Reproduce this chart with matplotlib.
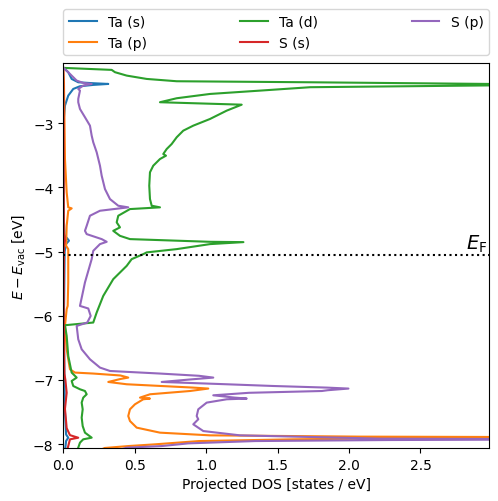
import matplotlib
matplotlib.use("Agg")
import matplotlib.pyplot as plt

# Fermi level and axis range (eV)
e_fermi = -5.05
y_min, y_max = -8.06, -2.06
x_max = 2.98

# Ta (s)
ta_s_energy = [-2.142, -2.204, -2.309, -2.361, -2.376, -2.387, -2.402, -2.423, -2.465, -2.569,
               -2.725, -2.933, -3.5, -4.5, -4.75, -4.80, -4.83, -4.88, -5.0, -6.0,
               -7.0, -7.5, -7.85, -7.9, -7.95, -8.15]
ta_s_dos = [0.005, 0.035, 0.059, 0.105, 0.210, 0.315, 0.210, 0.117, 0.070, 0.035,
            0.012, 0.004, 0.002, 0.004, 0.010, 0.030, 0.040, 0.020, 0.010, 0.005,
            0.008, 0.012, 0.020, 0.035, 0.020, 0.010]

# Ta (p)
ta_p_energy = [-2.137, -2.361, -3.557, -4.076, -4.310, -4.326, -4.363, -4.598, -4.910, -4.961,
               -5.480, -5.846, -5.897, -6.158, -6.522, -6.834, -6.885, -6.900, -6.930, -6.963,
               -6.985, -7.031, -7.067, -7.119, -7.134, -7.172, -7.223, -7.275, -7.290, -7.301,
               -7.379, -7.457, -7.562, -7.640, -7.743, -7.821, -7.863, -7.883, -7.893, -7.905,
               -7.925, -7.952, -8.003, -8.030, -8.060, -8.15]
ta_p_dos = [0.0, 0.005, 0.012, 0.024, 0.035, 0.059, 0.035, 0.024, 0.020, 0.035,
            0.035, 0.031, 0.024, 0.012, 0.024, 0.047, 0.082, 0.210, 0.400, 0.455,
            0.400, 0.315, 0.444, 0.910, 1.015, 0.887, 0.607, 0.537, 0.607, 0.560,
            0.502, 0.467, 0.455, 0.467, 0.514, 0.677, 1.027, 2.077, 3.8, 2.5,
            1.611, 0.950, 0.642, 0.455, 0.290, 0.2]

# Ta (d)
ta_d_energy = [-2.137, -2.168, -2.204, -2.257, -2.309, -2.345, -2.361, -2.387, -2.398, -2.410,
               -2.438, -2.491, -2.543, -2.610, -2.672, -2.710, -2.803, -2.933, -3.037, -3.115,
               -3.218, -3.323, -3.401, -3.479, -3.505, -3.557, -3.661, -3.764, -3.973, -4.181,
               -4.285, -4.310, -4.337, -4.441, -4.544, -4.622, -4.676, -4.754, -4.805, -4.847,
               -4.852, -4.883, -4.961, -5.012, -5.039, -5.117, -5.222, -5.429, -5.690, -5.949,
               -6.105, -6.147, -6.314, -6.626, -6.885, -6.963, -7.016, -7.094, -7.145, -7.172,
               -7.223, -7.275, -7.353, -7.457, -7.587, -7.718, -7.821, -7.899, -7.925, -7.977,
               -8.055, -8.15]
ta_d_dos = [0.005, 0.339, 0.362, 0.444, 0.584, 0.794, 1.728, 2.98, 3.6, 2.98,
            1.728, 1.377, 1.027, 0.794, 0.677, 1.249, 1.144, 1.027, 0.910, 0.840,
            0.794, 0.759, 0.724, 0.700, 0.719, 0.677, 0.630, 0.607, 0.602, 0.607,
            0.619, 0.677, 0.467, 0.385, 0.374, 0.397, 0.350, 0.397, 0.467, 1.027,
            1.261, 1.027, 0.794, 0.584, 0.560, 0.479, 0.444, 0.350, 0.280, 0.234,
            0.210, 0.012, 0.024, 0.035, 0.059, 0.094, 0.059, 0.070, 0.117, 0.152,
            0.164, 0.140, 0.129, 0.136, 0.129, 0.136, 0.152, 0.199, 0.140, 0.117,
            0.105, 0.09]

# S (s)
s_s_energy = [-2.142, -3.0, -4.7, -4.83, -4.9, -6.0, -6.9, -7.0, -7.2, -7.45,
              -7.75, -7.86, -7.9, -7.925, -8.03, -8.15]
s_s_dos = [0.0, 0.002, 0.004, 0.012, 0.005, 0.003, 0.008, 0.015, 0.024, 0.012,
           0.024, 0.047, 0.105, 0.047, 0.035, 0.02]

# S (p)
s_p_energy = [-2.142, -2.231, -2.335, -2.371, -2.387, -2.413, -2.465, -2.491, -2.621, -2.672,
              -2.777, -2.906, -3.037, -3.193, -3.296, -3.452, -3.661, -3.817, -4.025, -4.181,
              -4.285, -4.310, -4.363, -4.441, -4.598, -4.676, -4.727, -4.805, -4.847, -4.883,
              -4.988, -5.117, -5.480, -5.846, -5.886, -6.002, -6.105, -6.158, -6.366, -6.522,
              -6.678, -6.807, -6.860, -6.900, -6.935, -6.963, -6.990, -7.031, -7.067, -7.094,
              -7.119, -7.134, -7.160, -7.172, -7.200, -7.239, -7.275, -7.290, -7.301, -7.353,
              -7.457, -7.562, -7.613, -7.691, -7.796, -7.863, -7.914, -7.925, -7.936, -7.952,
              -7.988, -8.030, -8.055, -8.15]
s_p_dos = [0.005, 0.047, 0.094, 0.140, 0.199, 0.140, 0.105, 0.117, 0.105, 0.105,
           0.117, 0.152, 0.187, 0.199, 0.210, 0.234, 0.257, 0.269, 0.292, 0.327,
           0.385, 0.455, 0.257, 0.187, 0.164, 0.152, 0.164, 0.269, 0.304, 0.257,
           0.210, 0.199, 0.152, 0.117, 0.175, 0.192, 0.168, 0.094, 0.105, 0.129,
           0.187, 0.257, 0.327, 0.677, 0.950, 1.050, 0.900, 0.689, 1.144, 1.471,
           1.845, 1.996, 1.850, 1.810, 1.300, 1.050, 1.200, 1.284, 1.144, 1.004,
           0.945, 0.934, 0.945, 0.910, 0.980, 1.237, 2.218, 3.8, 2.274, 1.342,
           0.875, 0.689, 0.444, 0.3]

series = [
    ("Ta (s)", ta_s_energy, ta_s_dos),
    ("Ta (p)", ta_p_energy, ta_p_dos),
    ("Ta (d)", ta_d_energy, ta_d_dos),
    ("S (s)", s_s_energy, s_s_dos),
    ("S (p)", s_p_energy, s_p_dos),
]

fig = plt.figure(figsize=(4.98, 5.02), dpi=100)
ax = fig.add_axes([0.127, 0.1056, 0.855, 0.767])

for label, energy, dos in series:
    ax.plot(dos, energy, label=label)

# Fermi level
ax.axhline(e_fermi, color="black", ls=":", lw=1.5)
ax.text(2.965, e_fermi + 0.02, r"$E_\mathrm{F}$", ha="right", va="bottom", fontsize=14)

ax.set_xlim(0, x_max)
ax.set_ylim(y_min, y_max)
ax.set_xticks([0.0, 0.5, 1.0, 1.5, 2.0, 2.5])
ax.set_yticks([-8, -7, -6, -5, -4, -3])
ax.set_xlabel("Projected DOS [states / eV]")
ax.set_ylabel(r"$E - E_\mathrm{vac}$ [eV]")

ax.legend(bbox_to_anchor=(0, 1.02, 1, 0.2), loc="lower left", mode="expand",
          ncol=3, borderaxespad=0)

fig.savefig("out.png", dpi=100)
